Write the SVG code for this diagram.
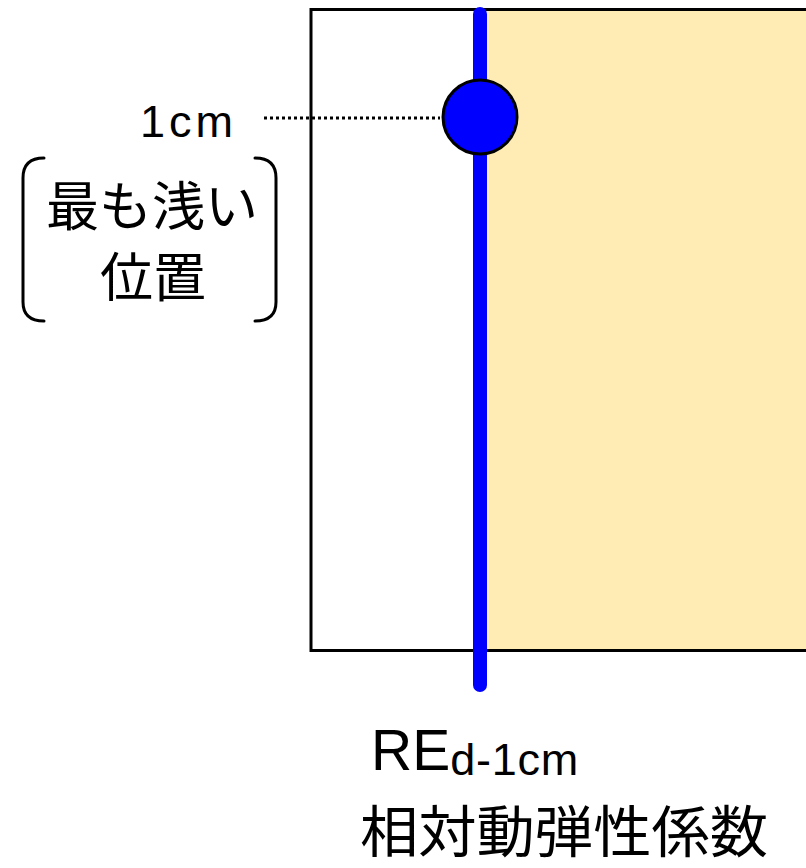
<svg xmlns="http://www.w3.org/2000/svg" width="806" height="868" viewBox="0 0 806 868">
<style>
.jp{font-family:"Noto Sans CJK JP","Liberation Sans",sans-serif;fill:#000}
.lat{font-family:"Liberation Sans",Arial,sans-serif;fill:#000}
.br{fill:none;stroke:#000;stroke-width:3;stroke-linecap:round}
</style>
<rect width="806" height="868" fill="#fff"/>
<g id="box">
<rect x="487" y="10" width="330" height="640" fill="#FFEBB4"/>
<rect x="311" y="9.5" width="520" height="641" fill="none" stroke="#000" stroke-width="3"/>
</g>
<g id="connectors">
<line x1="264" y1="118" x2="440" y2="118" stroke="#000" stroke-width="3" stroke-dasharray="3 3"/>
</g>
<g id="probe">
<line x1="480" y1="14" x2="480" y2="685" stroke="#0000FF" stroke-width="14" stroke-linecap="round"/>
<circle cx="480" cy="117" r="37" fill="#0000FF" stroke="#000" stroke-width="3"/>
</g>
<g id="label-1cm">
<text class="lat" x="140" y="137" font-size="45" textLength="93" lengthAdjust="spacing">1cm</text>
</g>
<g id="label-shallow">
<path class="br" d="M44,158 Q23,158 23,178 L23,302 Q23,321 44,321"/>
<path class="br" d="M255,158 Q276,158 276,178 L276,302 Q276,321 255,321"/>
<text class="jp" x="152" y="226" font-size="53" text-anchor="middle">最も浅い</text>
<text class="jp" x="153" y="297" font-size="53" text-anchor="middle">位置</text>
</g>
<g id="label-red">
<text class="lat" x="371" y="770" font-size="57">RE<tspan font-size="45" dy="5" textLength="128" lengthAdjust="spacing">d-1cm</tspan></text>
<text class="jp" x="564" y="852" font-size="56" text-anchor="middle" textLength="408" lengthAdjust="spacingAndGlyphs">相対動弾性係数</text>
</g>
</svg>
